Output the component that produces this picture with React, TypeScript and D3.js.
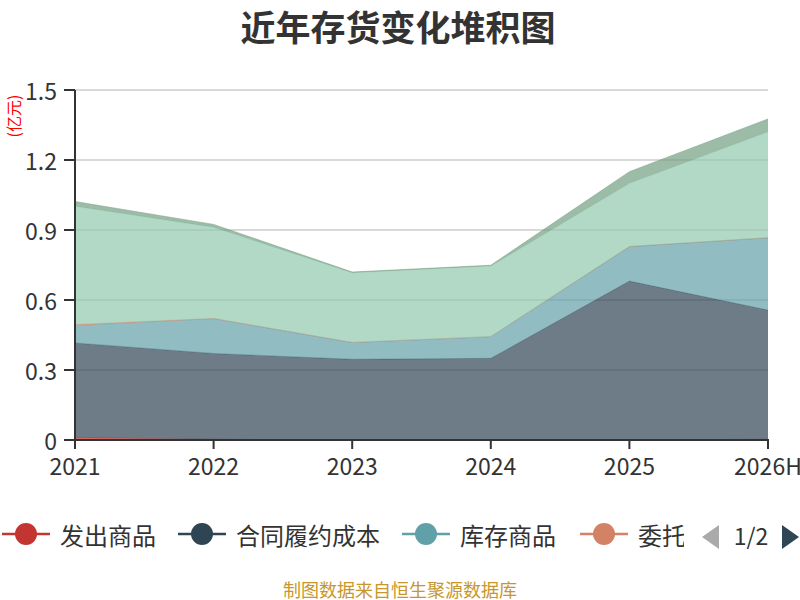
import * as d3 from 'd3';

// 年份与各类存货（亿元），按堆叠顺序自下而上
const years = ['2021', '2022', '2023', '2024', '2025', '2026H'];
const faChuShangPin = [0.010, 0.003, 0.000, 0.000, 0.000, 0.003];
const heTongLvYue = [0.406, 0.368, 0.346, 0.350, 0.681, 0.554];
const kuCunShangPin = [0.075, 0.149, 0.072, 0.093, 0.148, 0.310];
const weiTuoJiaGong = [0.004, 0.001, 0.000, 0.000, 0.000, 0.000];
const yuanCaiLiao = [0.507, 0.391, 0.299, 0.303, 0.271, 0.454];
const zaiChanPin = [0.020, 0.012, 0.003, 0.003, 0.050, 0.055];

const seriesNames = ['发出商品', '合同履约成本', '库存商品', '委托加工物资', '原材料', '在产品'];
const seriesValues = [faChuShangPin, heTongLvYue, kuCunShangPin, weiTuoJiaGong, yuanCaiLiao, zaiChanPin];
const colors = ['#c23531', '#2f4554', '#61a0a8', '#d48265', '#91c7ae', '#749f83'];
const yTicks = [0, 0.3, 0.6, 0.9, 1.2, 1.5];

const WIDTH = 800;
const HEIGHT = 600;
const margin = { top: 90, right: 32, bottom: 160, left: 75 };
const FONT = '"Noto Sans CJK SC", "Noto Sans", sans-serif';

export default function App() {
  const innerW = WIDTH - margin.left - margin.right;
  const innerH = HEIGHT - margin.top - margin.bottom;

  const x = d3.scalePoint<string>().domain(years).range([0, innerW]);
  const y = d3.scaleLinear().domain([0, 1.5]).range([innerH, 0]);

  const rows = years.map((yr, i) => {
    const row: Record<string, number | string> = { year: yr };
    seriesNames.forEach((name, s) => (row[name] = seriesValues[s][i]));
    return row;
  });
  const stacked = d3.stack<any>().keys(seriesNames)(rows);

  const area = d3
    .area<any>()
    .x((d) => x(d.data.year)!)
    .y0((d) => y(d[0]))
    .y1((d) => y(d[1]));
  const line = d3
    .line<any>()
    .x((d) => x(d.data.year)!)
    .y((d) => y(d[1]));

  // 图例第一页只显示前四项
  const legendItems = seriesNames.slice(0, 4);
  const legendX = [2, 178, 402, 580];
  const legendY = 534;

  return (
    <svg
      width={WIDTH}
      height={HEIGHT}
      style={{ position: 'absolute', left: 0, top: 0, fontFamily: FONT }}
    >
      <rect width={WIDTH} height={HEIGHT} fill="#fff" />
      <text x={398} y={25} textAnchor="middle" dominantBaseline="central" fontSize={35} fontWeight="bold" fill="#333">
        近年存货变化堆积图
      </text>

      <text
        transform="translate(13,116) rotate(-90)"
        textAnchor="middle"
        dominantBaseline="central"
        fontSize={16}
        fill="#ff0000"
      >
        (亿元)
      </text>

      <g transform={`translate(${margin.left},${margin.top})`}>
        {yTicks.map((t) => (
          <g key={t}>
            {t > 0 && <line x1={0} x2={innerW} y1={y(t)} y2={y(t)} stroke="#ccc" strokeWidth={1.5} />}
            <line x1={-11} x2={0} y1={y(t)} y2={y(t)} stroke="#333" strokeWidth={2} />
            <text x={-18} y={y(t)} textAnchor="end" dominantBaseline="central" fontSize={23} fill="#333">
              {String(t)}
            </text>
          </g>
        ))}

        {stacked.map((layer, i) => (
          <g key={layer.key}>
            <path d={area(layer)!} fill={colors[i]} fillOpacity={0.7} />
            <path d={line(layer)!} fill="none" stroke={colors[i]} strokeOpacity={0.5} strokeWidth={1} />
          </g>
        ))}

        <line x1={0} x2={0} y1={0} y2={innerH} stroke="#333" strokeWidth={2} />
        <line x1={0} x2={innerW + 1} y1={innerH} y2={innerH} stroke="#333" strokeWidth={2} />
        {years.map((yr) => (
          <g key={yr} transform={`translate(${x(yr)},${innerH})`}>
            <line y1={0} y2={9} stroke="#333" strokeWidth={2} />
            <text y={25} textAnchor="middle" dominantBaseline="central" fontSize={23} fill="#333">
              {yr}
            </text>
          </g>
        ))}
      </g>

      <defs>
        <clipPath id="legendClip">
          <rect x={0} y={500} width={684} height={70} />
        </clipPath>
      </defs>
      <g clipPath="url(#legendClip)">
        {legendItems.map((name, i) => (
          <g key={name} transform={`translate(${legendX[i]},${legendY})`}>
            <line x1={0} x2={48} y1={0} y2={0} stroke={colors[i]} strokeWidth={2.5} />
            <circle cx={24} cy={0} r={11} fill={colors[i]} />
            <text x={58} y={0} dominantBaseline="central" fontSize={24} fill="#333">
              {name}
            </text>
          </g>
        ))}
      </g>
      <polygon points="702,537 719,525 719,549" fill="#aaa" />
      <text x={751} y={535} textAnchor="middle" dominantBaseline="central" fontSize={23} fill="#333">
        1/2
      </text>
      <polygon points="799,537 782,525 782,549" fill="#2f4554" />

      <text x={400} y={589} textAnchor="middle" dominantBaseline="central" fontSize={18} fill="#c8962d">
        制图数据来自恒生聚源数据库
      </text>
    </svg>
  );
}
